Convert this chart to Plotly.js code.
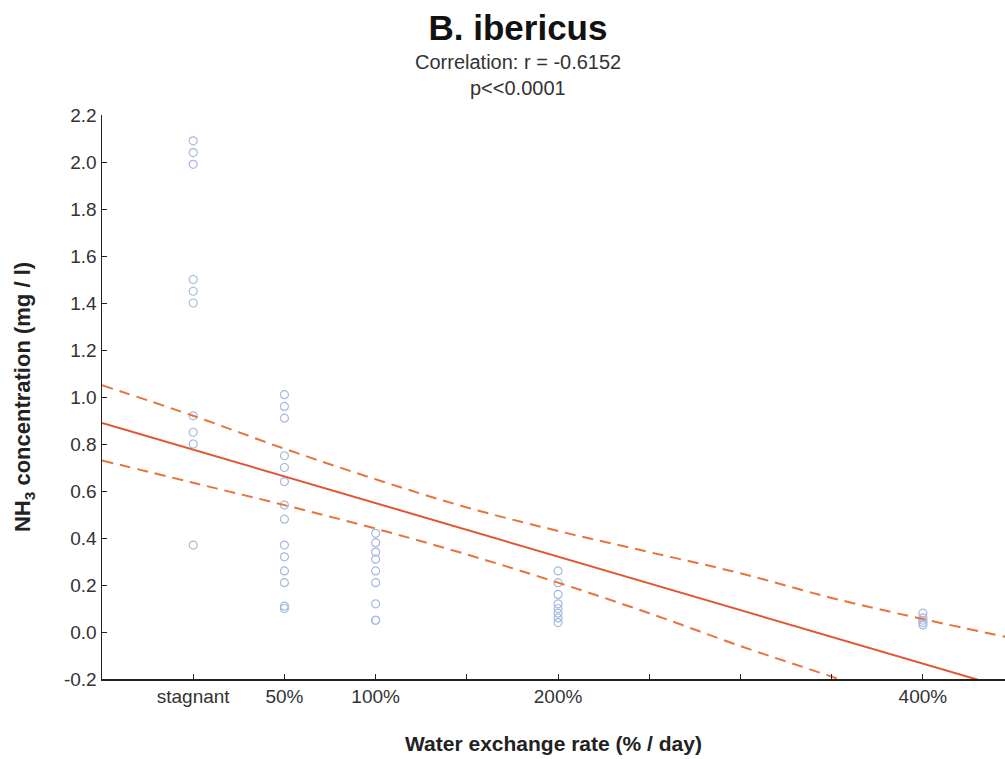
<!DOCTYPE html>
<html>
<head>
<meta charset="utf-8">
<script src="https://cdn.plot.ly/plotly-3.0.1.min.js"></script>
<style>
  html, body { margin: 0; padding: 0; background: #ffffff; overflow: hidden; }
  #chart { width: 1005px; height: 759px; }
</style>
</head>
<body>
<div id="chart"></div>
<script>
// Water exchange rate groups (% per day; stagnant = 0)
const rateStagnant = 0, rate50 = 50, rate100 = 100, rate200 = 200, rate400 = 400;

// NH3 concentration (mg/l) measured in each group
const nh3Stagnant = [2.09, 2.04, 1.99, 1.50, 1.45, 1.40, 0.92, 0.85, 0.80, 0.37];
const nh3Rate50   = [1.01, 0.96, 0.91, 0.75, 0.70, 0.64, 0.54, 0.48, 0.37, 0.32, 0.26, 0.21, 0.11, 0.10];
const nh3Rate100  = [0.42, 0.38, 0.34, 0.31, 0.26, 0.21, 0.12, 0.05, 0.05];
const nh3Rate200  = [0.26, 0.21, 0.16, 0.12, 0.10, 0.08, 0.06, 0.04];
const nh3Rate400  = [0.08, 0.06, 0.05, 0.04, 0.03];

// Fitted regression line and its 95% confidence band
const fitX   = [-50, 445];
const fitY   = [0.89, -0.237];
const bandX  = [-50, 0, 50, 100, 150, 200, 250, 300, 350, 400, 445];
const bandHi = [1.05, 0.92, 0.78, 0.65, 0.53, 0.43, 0.34, 0.25, 0.145, 0.055, -0.02];
const bandLo = [0.73, 0.635, 0.54, 0.44, 0.33, 0.21, 0.08, -0.06, -0.19, -0.325, -0.45];

// Axis ticks
const xTickVals  = [0, 50, 100, 200, 400];
const xTickText  = ['stagnant', '50%', '100%', '200%', '400%'];
const yTickVals  = [-0.2, 0.0, 0.2, 0.4, 0.6, 0.8, 1.0, 1.2, 1.4, 1.6, 1.8, 2.0, 2.2];
const yTickText  = ['-0.2', '0.0', '0.2', '0.4', '0.6', '0.8', '1.0', '1.2', '1.4', '1.6', '1.8', '2.0', '2.2'];

const groups = [
  [rateStagnant, nh3Stagnant],
  [rate50, nh3Rate50],
  [rate100, nh3Rate100],
  [rate200, nh3Rate200],
  [rate400, nh3Rate400]
];
const ptX = [], ptY = [];
groups.forEach(([rate, vals]) => vals.forEach(v => { ptX.push(rate); ptY.push(v); }));

const FONT = '"Liberation Sans", Arial, Helvetica, sans-serif';
const DASH = '11px,7px';

const traces = [
  {
    x: ptX, y: ptY, type: 'scatter', mode: 'markers',
    marker: { symbol: 'circle-open', size: 8, color: '#a6b9df', line: { width: 1.2, color: '#a6b9df' } },
    cliponaxis: false
  },
  {
    x: bandX, y: bandHi, type: 'scatter', mode: 'lines',
    line: { color: '#e8743a', width: 2, dash: DASH, shape: 'spline' }
  },
  {
    x: bandX, y: bandLo, type: 'scatter', mode: 'lines',
    line: { color: '#e8743a', width: 2, dash: DASH, shape: 'spline' }
  },
  {
    x: fitX, y: fitY, type: 'scatter', mode: 'lines',
    line: { color: '#e2552f', width: 2 }
  }
];

const layout = {
  width: 1005, height: 759,
  margin: { l: 102, r: 0, t: 115, b: 80, pad: 0 },
  paper_bgcolor: '#ffffff', plot_bgcolor: '#ffffff',
  showlegend: false,
  font: { family: FONT, color: '#333333' },
  title: {
    text: '<b>B. ibericus</b>', xref: 'container', yref: 'container',
    x: 518 / 1005, xanchor: 'center', y: 1 - 28 / 759, yanchor: 'middle',
    font: { family: FONT, size: 35, color: '#111' }
  },
  xaxis: {
    range: [-50, 445], tickmode: 'array', tickvals: xTickVals, ticktext: xTickText,
    ticks: 'inside', ticklen: 5, tickwidth: 1, tickcolor: '#222',
    minor: { tick0: 0, dtick: 50, ticks: 'inside', ticklen: 5, tickwidth: 1, tickcolor: '#222', showgrid: false },
    showline: true, linecolor: '#222', linewidth: 1.5, mirror: false,
    showgrid: false, zeroline: false,
    tickfont: { family: FONT, size: 19, color: '#333' },
    title: { text: '<b>Water exchange rate (% / day)</b>', font: { family: FONT, size: 21, color: '#222' }, standoff: 30 }
  },
  yaxis: {
    range: [-0.2, 2.2], tickmode: 'array', tickvals: yTickVals, ticktext: yTickText,
    ticks: 'inside', ticklen: 5, tickwidth: 1, tickcolor: '#222',
    showline: true, linecolor: '#222', linewidth: 1.5, mirror: false,
    showgrid: false, zeroline: false,
    tickfont: { family: FONT, size: 19, color: '#333' },
    title: { text: '<b>NH<sub>3</sub> concentration (mg / l)</b>', font: { family: FONT, size: 22, color: '#222' }, standoff: 27 }
  },
  annotations: [
    { text: 'Correlation: r = -0.6152', xref: 'paper', yref: 'paper', x: 0.4607, y: 1.094,
      showarrow: false, xanchor: 'center', yanchor: 'middle', font: { family: FONT, size: 20, color: '#333' } },
    { text: 'p<<0.0001', xref: 'paper', yref: 'paper', x: 0.4607, y: 1.047,
      showarrow: false, xanchor: 'center', yanchor: 'middle', font: { family: FONT, size: 20, color: '#333' } }
  ]
};

Plotly.newPlot('chart', traces, layout, { displayModeBar: false, staticPlot: true });
</script>
</body>
</html>
